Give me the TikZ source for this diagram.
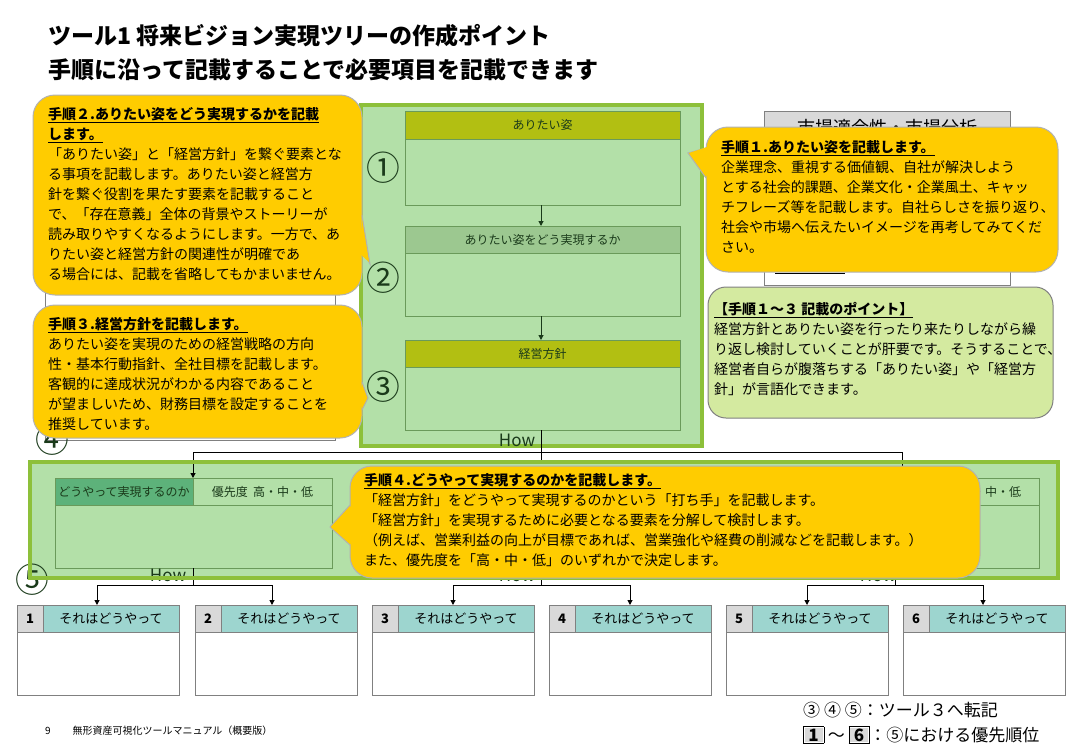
\documentclass[tikz,border=0pt]{standalone}
\usepackage{fontspec}
\setmainfont{Noto Sans CJK JP}
\usetikzlibrary{arrows.meta}
\definecolor{pg}{HTML}{B3E0A8}
\definecolor{pgb}{HTML}{8DC03A}
\definecolor{olive}{HTML}{B2BF12}
\definecolor{mg}{HTML}{9CC890}
\definecolor{dg}{HTML}{5DB27A}
\definecolor{bx}{HTML}{6A9A5A}
\definecolor{yl}{HTML}{FFCC00}
\definecolor{teal}{HTML}{9DD5CF}
\definecolor{lg}{HTML}{D9D9D9}
\definecolor{pt}{HTML}{D4EAA0}
\definecolor{tx}{HTML}{1A3A1A}
\tikzset{
 fs/.style={font=\fontsize{14}{20}\selectfont},
 tb/.style={anchor=north west,inner sep=0,align=left,fs},
 call/.style={fill=yl,draw=gray!60,line width=1pt,rounded corners=22},
 arr/.style={-{Triangle[length=5,width=5]},line width=1pt},
 hd/.style={draw=bx,line width=1pt,font=\fontsize{12}{14}\selectfont,text=tx},
 nb/.style={draw=gray,line width=1pt},
 circ/.style={font=\fontsize{25}{25}\selectfont,text=tx,scale=1.35},
 how/.style={font=\fontsize{17}{17}\selectfont,text=tx}
}
\begin{document}
\begin{tikzpicture}[x=1pt,y=-1pt]
\useasboundingbox (0,0) rectangle (1084,750);
\fill[white] (0,0) rectangle (1084,750);
% title
\node[anchor=west,inner sep=0,font=\fontsize{23}{26}\selectfont\bfseries] (t1) at (48,36) {ツール1 将来ビジョン実現ツリーの作成ポイント};
\node[anchor=west,inner sep=0,font=\fontsize{23}{26}\selectfont\bfseries] (t2) at (48,70) {手順に沿って記載することで必要項目を記載できます};
% hidden background boxes
\draw[gray,line width=1pt] (45,100) rectangle (335,440);
\node[circ] (c4) at (52,440) {④};
\draw[gray,line width=1pt,fill=lg] (764,111) rectangle (1010,140);
\draw[gray,line width=1pt] (764,140) rectangle (1010,285);
\node[font=\fontsize{18}{18}\selectfont] (mkt) at (887,128) {市場適合性・市場分析};
\draw[line width=1pt] (775,273) -- (845,273);
% centre panel
\draw[fill=pg,draw=pgb,line width=4pt] (361,105) rectangle (702,446);
\draw[fill=olive,hd] (405,111) rectangle node (h1) {ありたい姿} (680,139);
\draw[hd] (405,139) rectangle (680,205);
\draw[fill=mg,hd] (405,226) rectangle node (h2) {ありたい姿をどう実現するか} (680,253);
\draw[hd] (405,253) rectangle (680,316);
\draw[fill=olive,hd] (405,340) rectangle node (h3) {経営方針} (680,367);
\draw[hd] (405,367) rectangle (680,430);
\coordinate (a1) at (541,205); \coordinate (a2) at (541,226);
\coordinate (a3) at (541,316); \coordinate (a4) at (541,340);
\draw[arr,tx] (a1) -- (a2);
\draw[arr,tx] (a3) -- (a4);
\node[circ] (n1) at (383,168) {①};
\node[circ] (n2) at (383,278) {②};
\node[circ] (n3) at (383,387) {③};
\node[how] (how0) at (517,440) {How};
% tree connectors
\coordinate (b0) at (541,430); \coordinate (b1) at (541,452);
\coordinate (bl) at (193,452); \coordinate (br) at (902,452);
\draw[line width=1pt] (b0) -- (b1);
\draw[line width=1pt] (bl) -- (br);
% wide panel
\draw[fill=pg,draw=pgb,line width=4pt] (30,462) rectangle (1058,578);
\draw[fill=dg,hd] (55,478) rectangle node (w1) {どうやって実現するのか} (193,505);
\draw[hd] (193,478) rectangle node (w2) {優先度\ \ 高・中・低} (332,505);
\draw[hd] (55,505) rectangle (332,568);
\draw[fill=dg,hd] (403,478) rectangle (541,505);
\draw[hd] (541,478) rectangle (680,505);
\draw[hd] (403,505) rectangle (680,568);
\draw[fill=dg,hd] (764,478) rectangle (902,505);
\draw[hd] (902,478) rectangle node (w6) {優先度\ \ 高・中・低} (1039,505);
\draw[hd] (764,505) rectangle (1039,568);
\draw[arr] (bl) -- (193,478);
\draw[arr] (br) -- (902,478);
\draw[line width=1pt] (b1) -- (541,462);
\node[circ] (c5) at (32,580) {⑤};
\foreach \x/\n in {168/hl,517/hm,878/hr}{\node[how] (\n) at (\x,575) {How};}
% lower tree
\foreach \c/\l/\r in {193/97/272,541/453/630,895/807/983}{
 \draw[line width=1pt] (\c,568) -- (\c,585);
 \draw[line width=1pt] (\l,585) -- (\r,585);
 \draw[arr] (\l,585) -- (\l,605);
 \draw[arr] (\r,585) -- (\r,605);
}
\draw[draw=pgb,line width=4pt] (30,462) rectangle (1058,578);
% six boxes
\foreach \x/\n in {17/1,195/2,372/3,549/4,726/5,903/6}{
 \draw[nb,fill=lg] (\x,605) rectangle node[font=\fontsize{13}{13}\selectfont\bfseries] {\n} (\x+26,632);
 \draw[nb,fill=teal] (\x+26,605) rectangle node[font=\fontsize{13}{13}\selectfont] {それはどうやって} (\x+162,632);
 \draw[nb] (\x,632) rectangle (\x+162,695);
}
% legend
\node[anchor=west,inner sep=0,font=\fontsize{17}{17}\selectfont] (lg1) at (803,710) {③ ④ ⑤：ツール３へ転記};
\node[anchor=west,inner sep=0,font=\fontsize{17}{17}\selectfont] (lg2) at (803,735) {\fboxsep=1pt\fbox{\colorbox{lg}{\bfseries\,1\,}} ～ \fbox{\colorbox{lg}{\bfseries\,6\,}}：⑤における優先順位};
\node[anchor=west,inner sep=0,font=\fontsize{10}{10}\selectfont] (ft) at (45,731) {9\hspace{2.2em}無形資産可視化ツールマニュアル（概要版）};
% callout 2
\draw[call] (33,95) rectangle (362,295);
\draw[fill=yl,draw=gray!60,line width=1pt] (362,215) -- (370,264) -- (362,250);
\fill[yl] (358,213) -- (369,262) -- (358,252) -- cycle;
\node[tb] (t2a) at (48,107) {\textbf{\underline{手順２.ありたい姿をどう実現するかを記載}}\\\textbf{\underline{します。}}\\「ありたい姿」と「経営方針」を繋ぐ要素とな\\る事項を記載します。ありたい姿と経営方\\針を繋ぐ役割を果たす要素を記載すること\\で、「存在意義」全体の背景やストーリーが\\読み取りやすくなるようにします。一方で、あ\\りたい姿と経営方針の関連性が明確であ\\る場合には、記載を省略してもかまいません。};
% callout 3
\draw[call] (33,305) rectangle (362,438);
\draw[fill=yl,draw=gray!60,line width=1pt] (362,382) -- (368,398) -- (362,410);
\fill[yl] (358,380) -- (367,398) -- (358,412) -- cycle;
\node[tb] (t3a) at (48,317) {\textbf{\underline{手順３.経営方針を記載します。}}\\ありたい姿を実現のための経営戦略の方向\\性・基本行動指針、全社目標を記載します。\\客観的に達成状況がわかる内容であること\\が望ましいため、財務目標を設定することを\\推奨しています。};
% callout 1
\draw[call] (706,127) rectangle (1058,272);
\draw[fill=yl,draw=gray!60,line width=1pt] (706,148) -- (688,153) -- (706,178);
\fill[yl] (710,146) -- (689,153) -- (710,180) -- cycle;
\node[tb] (t1a) at (721,140) {\textbf{\underline{手順１.ありたい姿を記載します。}}\\企業理念、重視する価値観、自社が解決しよう\\とする社会的課題、企業文化・企業風土、キャッ\\チフレーズ等を記載します。自社らしさを振り返り、\\社会や市場へ伝えたいイメージを再考してみてくだ\\さい。};
% points box
\draw[fill=pt,draw=gray,line width=1pt,rounded corners=18] (708,287) rectangle (1053,418);
\node[tb] (tp) at (714,302) {\textbf{\underline{【手順１～３\ 記載のポイント】}}\\経営方針とありたい姿を行ったり来たりしながら繰\\り返し検討していくことが肝要です。そうすることで、\\経営者自らが腹落ちする「ありたい姿」や「経営方\\針」が言語化できます。};
% callout 4
\draw[call] (350,466) rectangle (980,578);
\draw[fill=yl,draw=gray!60,line width=1pt] (350,505) -- (330,527) -- (350,545);
\fill[yl] (354,503) -- (331,527) -- (354,547) -- cycle;
\node[tb] (t4a) at (364,473) {\textbf{\underline{手順４.どうやって実現するのかを記載します。}}\\「経営方針」をどうやって実現するのかという「打ち手」を記載します。\\「経営方針」を実現するために必要となる要素を分解して検討します。\\（例えば、営業利益の向上が目標であれば、営業強化や経費の削減などを記載します。）\\また、優先度を「高・中・低」のいずれかで決定します。};
\end{tikzpicture}
\end{document}
